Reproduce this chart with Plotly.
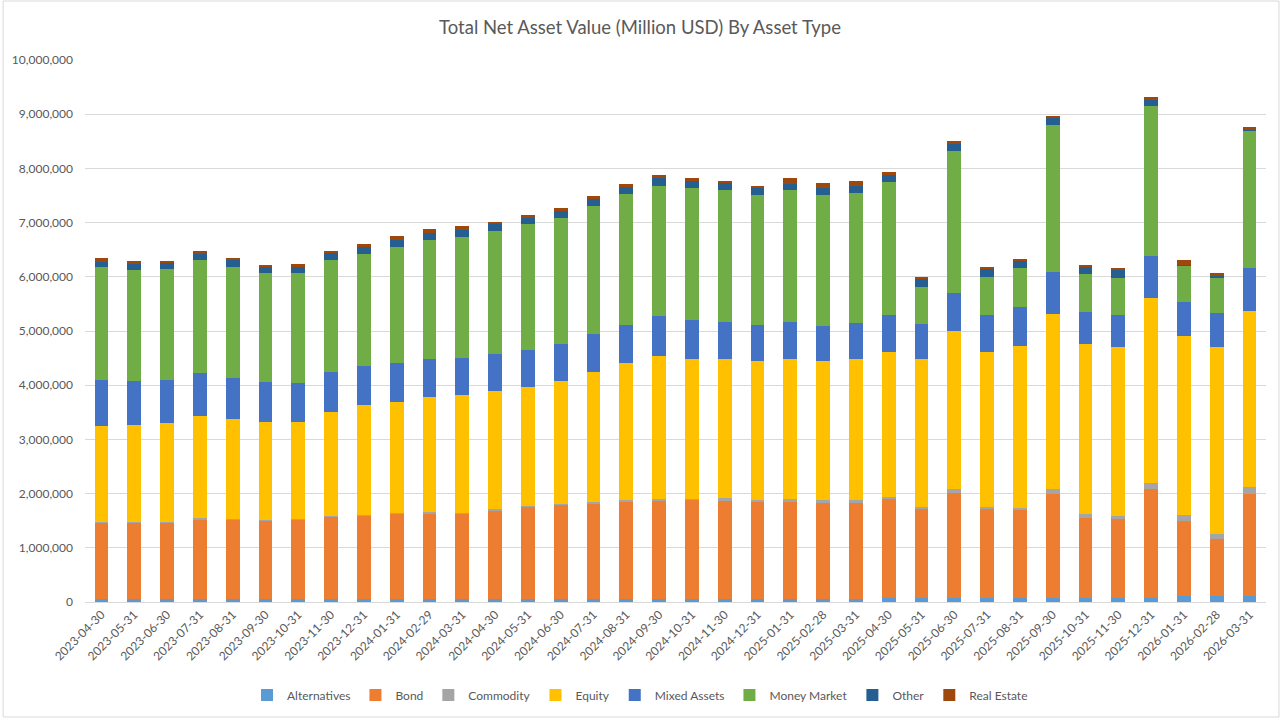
import plotly.graph_objects as go

dates = ["2023-04-30","2023-05-31","2023-06-30","2023-07-31","2023-08-31","2023-09-30",
         "2023-10-31","2023-11-30","2023-12-31","2024-01-31","2024-02-29","2024-03-31",
         "2024-04-30","2024-05-31","2024-06-30","2024-07-31","2024-08-31","2024-09-30",
         "2024-10-31","2024-11-30","2024-12-31","2025-01-31","2025-02-28","2025-03-31",
         "2025-04-30","2025-05-31","2025-06-30","2025-07-31","2025-08-31","2025-09-30",
         "2025-10-31","2025-11-30","2025-12-31","2026-01-31","2026-02-28","2026-03-31"]

alternatives = [55000,55000,55000,55000,55000,55000,55000,55000,60000,60000,60000,60000,
                60000,60000,60000,60000,60000,60000,60000,60000,60000,60000,60000,60000,
                75000,75000,75000,75000,75000,75000,75000,75000,75000,105000,105000,105000]
bond = [1415000,1415000,1415000,1476000,1458000,1445000,1458000,1519000,1532000,1564000,1577000,1577000,
        1637000,1698000,1730000,1761000,1803000,1809000,1822000,1809000,1798000,1791000,1772000,1772000,
        1820000,1635000,1931000,1635000,1622000,1918000,1480000,1451000,2004000,1389000,1057000,1888000]
commodity = [12000,10000,10000,11000,10000,10000,10000,11000,19000,16000,18000,13000,
             19000,19000,18000,30000,19000,26000,24000,44000,24000,44000,50000,50000,
             37000,48000,73000,48000,43000,86000,69000,61000,122000,111000,93000,134000]
equity = [1771000,1786000,1828000,1895000,1853000,1811000,1798000,1926000,2024000,2056000,2133000,2169000,
          2177000,2195000,2275000,2398000,2522000,2649000,2583000,2565000,2559000,2594000,2559000,2596000,
          2686000,2720000,2921000,2849000,2983000,3229000,3131000,3123000,3402000,3308000,3455000,3248000]
mixed_assets = [843000,817000,788000,783000,762000,744000,714000,727000,719000,708000,695000,688000,
                683000,677000,677000,696000,707000,738000,714000,688000,670000,677000,657000,675000,
                677000,651000,696000,688000,714000,786000,601000,585000,786000,617000,617000,782000]
money_market = [2079000,2042000,2048000,2090000,2048000,2011000,2041000,2072000,2072000,2140000,2190000,2222000,
                2263000,2325000,2325000,2367000,2417000,2399000,2430000,2435000,2404000,2435000,2417000,2399000,
                2449000,683000,2625000,707000,720000,2701000,696000,688000,2762000,675000,664000,2551000]
other = [104000,111000,105000,111000,124000,110000,110000,135000,129000,135000,130000,134000,
         135000,116000,135000,129000,134000,147000,129000,124000,123000,111000,123000,123000,
         129000,147000,135000,155000,129000,129000,134000,155000,129000,5000,29000,9000]
real_estate = [62000,61000,48000,61000,31000,37000,50000,40000,45000,79000,79000,69000,
               43000,50000,44000,44000,56000,45000,55000,48000,37000,105000,87000,87000,
               55000,43000,44000,29000,42000,43000,26000,24000,32000,94000,50000,56000]

series = [
    ("Alternatives", alternatives, "#5B9BD5"),
    ("Bond", bond, "#ED7D31"),
    ("Commodity", commodity, "#A5A5A5"),
    ("Equity", equity, "#FFC000"),
    ("Mixed Assets", mixed_assets, "#4472C4"),
    ("Money Market", money_market, "#70AD47"),
    ("Other", other, "#255E91"),
    ("Real Estate", real_estate, "#9E480E"),
]

FONT = "Lato"
TXT = "#595959"

fig = go.Figure()
for name, vals, col in series:
    fig.add_trace(go.Bar(x=dates, y=vals, name=name,
                         marker=dict(color=col, line=dict(width=0))))

fig.update_layout(
    width=1280, height=720,
    barmode="stack", bargap=0.58,
    paper_bgcolor="white", plot_bgcolor="white",
    margin=dict(l=83, r=14, t=60, b=118),
    font=dict(family=FONT, size=12, color=TXT),
    title=dict(text="Total Net Asset Value (Million USD) By Asset Type",
               x=0.5, xref="container", xanchor="center",
               y=1 - 28 / 720, yref="container", yanchor="middle",
               font=dict(family=FONT, size=18.5, color=TXT)),
    legend=dict(orientation="h", x=0.5, xref="container", xanchor="center",
                y=1 - 695 / 720, yref="container", yanchor="middle",
                font=dict(family=FONT, size=12, color=TXT), traceorder="normal",
                itemwidth=30),
    xaxis=dict(type="category", tickangle=-45, showgrid=False, showline=True,
               linecolor="#D9D9D9", linewidth=1, ticks="",
               tickfont=dict(family=FONT, size=12, color=TXT)),
    yaxis=dict(range=[0, 10000000], dtick=1000000, tickformat=",d",
               showgrid=True, gridcolor="#D9D9D9", gridwidth=1, zeroline=False,
               showline=False, ticks="", ticklabelstandoff=11,
               tickfont=dict(family=FONT, size=12, color=TXT)),
    shapes=[dict(type="rect", xref="paper", yref="paper",
                 x0=(1 - 83) / 1183, x1=(1279 - 83) / 1183,
                 y0=(602 - 717) / 542, y1=(602 - 1) / 542,
                 line=dict(color="#D9D9D9", width=1), fillcolor="rgba(0,0,0,0)",
                 layer="below")],
)

fig.write_html("out.html", config={"displayModeBar": False},
               post_script="document.body.style.margin='0';document.body.style.overflow='hidden';")
